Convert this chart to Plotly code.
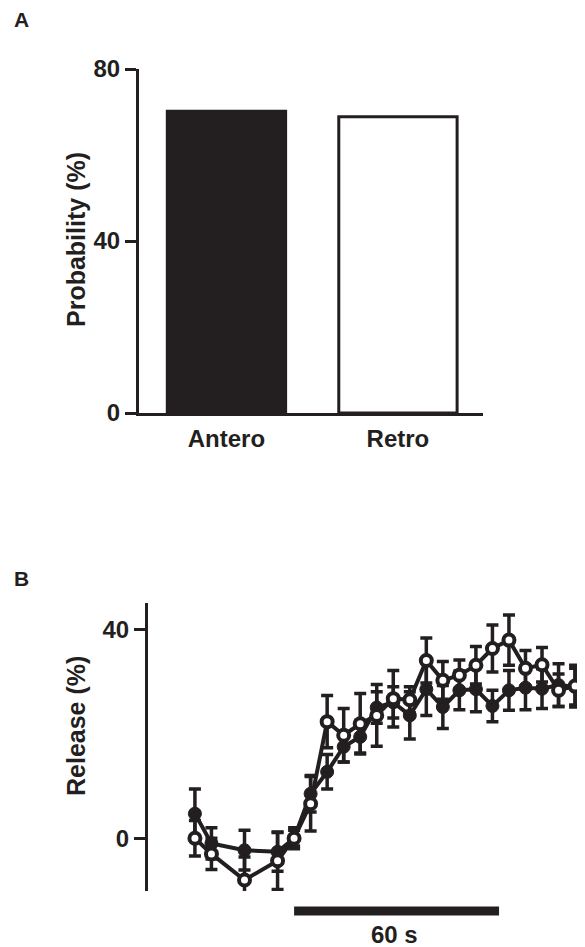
import plotly.graph_objects as go

W, H = 585, 947
INK = "#231f20"
FONT = "Liberation Sans, Arial, sans-serif"
OFF = 8  # page body margin in the browser

# ---- Panel A data ----
categories = ["Antero", "Retro"]
probability = [70.2, 68.9]
bar_fill = [INK, "white"]
a_ticks = [0, 40, 80]
a_title = "Probability (%)"

# ---- Panel B data ----
time_s = [0, 5, 15, 25, 30, 35, 40, 45, 50, 55, 60, 65, 70, 75, 80, 85, 90, 95, 100, 105, 110, 115]
closed_mean = [4.7, -1.0, -2.3, -2.6, 0.0, 8.5, 12.7, 17.5, 19.4, 25.0, 26.0, 23.5,
               28.5, 25.1, 28.3, 28.5, 25.3, 28.3, 28.8, 28.6, 29.3, 29.0]
closed_sem = [4.7, 3.0, 3.8, 3.7, 2.0, 3.5, 3.3, 2.9, 3.1, 3.0, 3.0, 4.5,
              5.0, 4.1, 3.7, 4.3, 3.0, 3.8, 4.2, 3.8, 4.1, 3.5]
open_mean = [0.0, -3.0, -8.0, -4.3, 0.0, 6.6, 22.3, 19.7, 21.9, 23.5, 26.7, 26.5,
             34.0, 30.2, 31.2, 33.1, 36.3, 37.9, 32.5, 33.2, 28.3, 29.1]
open_sem = [3.4, 3.0, 4.4, 5.5, 1.5, 5.2, 5.0, 5.1, 5.8, 5.9, 5.4, 2.5,
            4.3, 3.6, 2.9, 3.6, 4.5, 4.8, 3.4, 3.3, 3.1, 4.0]
b_ticks = [0, 40]
b_title = "Release (%)"
stim_start, stim_end = 30, 92
stim_label = "60 s"


def px_x(p):
    return (p - OFF) / W


def px_y(p):
    return 1 - (p - OFF) / H


fig = go.Figure()

fig.add_trace(go.Bar(
    x=[0, 1], y=probability, width=0.69,
    marker=dict(color=bar_fill, line=dict(color=INK, width=3)),
    xaxis="x", yaxis="y", showlegend=False, hoverinfo="skip",
))

err_common = dict(type="data", color=INK, thickness=3.5, width=6)

fig.add_trace(go.Scatter(
    x=time_s, y=closed_mean, mode="lines+markers",
    line=dict(color=INK, width=4),
    marker=dict(symbol="circle", size=13, color=INK, line=dict(color=INK, width=1)),
    error_y=dict(array=closed_sem, **err_common),
    xaxis="x2", yaxis="y2", showlegend=False, cliponaxis=False,
))
fig.add_trace(go.Scatter(
    x=time_s, y=open_mean, mode="lines+markers",
    line=dict(color=INK, width=4),
    marker=dict(symbol="circle", size=11, color="white", line=dict(color=INK, width=4)),
    error_y=dict(array=open_sem, **err_common),
    xaxis="x2", yaxis="y2", showlegend=False, cliponaxis=False,
))

FS = 24
tickfont = dict(family=FONT, size=FS, color=INK, weight="bold")
titlefont = dict(family=FONT, size=25, color=INK, weight="bold")

fig.update_layout(
    width=W, height=H,
    margin=dict(l=0, r=0, t=0, b=0, autoexpand=False),
    paper_bgcolor="white", plot_bgcolor="rgba(0,0,0,0)",
    font=dict(family=FONT, color=INK),
    xaxis=dict(
        domain=[px_x(139), px_x(483)], range=[-0.51, 1.496],
        tickmode="array", tickvals=[0, 1], ticktext=categories,
        showline=True, linecolor=INK, linewidth=3,
        ticks="outside", ticklen=2, tickcolor="rgba(0,0,0,0)",
        showgrid=False, zeroline=False, tickfont=tickfont, anchor="y",
    ),
    yaxis=dict(
        domain=[px_y(413), px_y(69)], range=[0, 80],
        tickmode="array", tickvals=a_ticks,
        showline=True, linecolor=INK, linewidth=3,
        ticks="outside", ticklen=11, tickwidth=3, tickcolor=INK,
        showgrid=False, zeroline=False, tickfont=tickfont, anchor="x",
    ),
    xaxis2=dict(
        domain=[px_x(146), 1.0], range=[-14.8, 118 + OFF / 3.304],
        visible=False, anchor="y2",
    ),
    yaxis2=dict(
        domain=[px_y(891), px_y(603)], range=[-10.1, 45],
        tickmode="array", tickvals=b_ticks,
        showline=True, linecolor=INK, linewidth=3,
        ticks="outside", ticklen=11, tickwidth=3, tickcolor=INK,
        showgrid=False, zeroline=False, tickfont=tickfont, anchor="free", position=px_x(146),
    ),
)

# axis titles
fig.add_annotation(text=a_title, xref="paper", yref="paper", x=px_x(76), y=px_y(240),
                   xanchor="center", yanchor="middle", textangle=-90, showarrow=False,
                   font=titlefont)
fig.add_annotation(text=b_title, xref="paper", yref="paper", x=px_x(76), y=px_y(726),
                   xanchor="center", yanchor="middle", textangle=-90, showarrow=False,
                   font=titlefont)

fig.add_shape(type="line", xref="x2", yref="paper",
              x0=stim_start, x1=stim_end, y0=px_y(911), y1=px_y(911),
              line=dict(color=INK, width=9))

fig.add_annotation(text=stim_label, xref="x2", yref="paper", x=60.5,
                   y=px_y(934), yanchor="middle", xanchor="center", showarrow=False,
                   font=tickfont)

for lab, yy in [("A", 20), ("B", 578)]:
    fig.add_annotation(text=lab, xref="paper", yref="paper", x=px_x(21), y=px_y(yy),
                       xanchor="center", yanchor="middle", showarrow=False,
                       font=dict(family=FONT, size=21, color=INK, weight="bold"))

fig.write_html("out.html")
